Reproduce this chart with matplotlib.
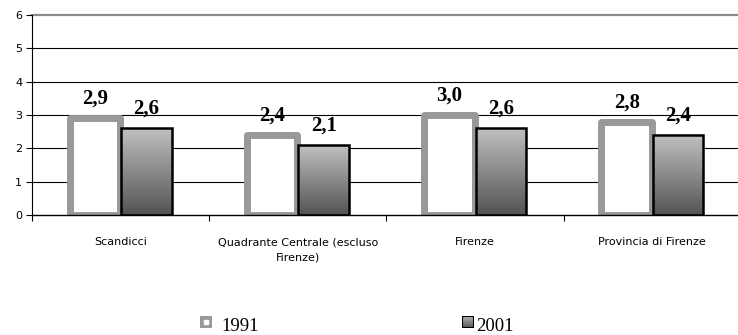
import numpy as np
import matplotlib
matplotlib.use("Agg")
import matplotlib.pyplot as plt
from matplotlib.patches import Rectangle
from matplotlib.colors import LinearSegmentedColormap

categories = ["Scandicci", "Quadrante Centrale (escluso\nFirenze)", "Firenze", "Provincia di Firenze"]
values_1991 = [2.9, 2.4, 3.0, 2.8]
values_2001 = [2.6, 2.1, 2.6, 2.4]
series_names = ["1991", "2001"]
yticks = [0, 1, 2, 3, 4, 5, 6]

W, H = 738, 335
fig = plt.figure(figsize=(W / 100, H / 100), dpi=100)
ax = fig.add_axes([32 / W, 1 - 215 / H, 709 / W, 200 / H])

x = np.arange(len(categories))
bw = 0.285
off = 0.145

ax.set_xlim(-0.5, len(categories) - 0.5)
ax.set_ylim(0, 6)

# horizontal grid
for t in yticks[1:-1]:
    ax.axhline(t, color="black", lw=0.8, zorder=0)
ax.axhline(6, color="#8c8c8c", lw=1.6, zorder=0, clip_on=False)

grey_grad = LinearSegmentedColormap.from_list("g", ["#535353", "#c0c0c0"])
grad = np.linspace(0, 1, 256).reshape(-1, 1)

# 1991: white bars with a heavy grey rounded border
b1 = ax.bar(x - off, values_1991, bw, color="white", edgecolor="#999999",
            linewidth=5, zorder=3)
for p in b1:
    p.set_joinstyle("round")

# 2001: vertical grey gradient bars with black outline
b2 = ax.bar(x + off, values_2001, bw, color="none", edgecolor="black",
            linewidth=1.8, zorder=4)
for p, v in zip(b2, values_2001):
    x0 = p.get_x()
    im = ax.imshow(grad, cmap=grey_grad, aspect="auto", origin="lower",
                   extent=[x0, x0 + bw, 0, v], zorder=3.5)
    im.set_clip_path(p)

for xi, v in zip(x - off, values_1991):
    ax.annotate(f"{v:.1f}".replace(".", ","), (xi, v), xytext=(0, 14),
                textcoords="offset points", ha="center", va="center",
                fontsize=15, fontweight="bold", family="Liberation Serif", zorder=6)
for xi, v in zip(x + off, values_2001):
    ax.annotate(f"{v:.1f}".replace(".", ","), (xi, v), xytext=(0, 14),
                textcoords="offset points", ha="center", va="center",
                fontsize=15, fontweight="bold", family="Liberation Serif", zorder=6)

ax.set_xticks(x)
ax.set_xticklabels(categories, fontsize=8, family="DejaVu Sans", linespacing=1.6)
ax.set_xticks(np.arange(-0.5, len(categories), 1), minor=True)
ax.tick_params(axis="x", which="major", length=0, pad=16)
ax.tick_params(axis="x", which="minor", length=4, width=0.8, color="black")
ax.set_yticks(yticks)
ax.set_yticklabels([str(t) for t in yticks], fontsize=8, family="DejaVu Sans")
ax.tick_params(axis="y", length=4, width=0.8, pad=3)

for s in ["top", "right"]:
    ax.spines[s].set_visible(False)
ax.spines["left"].set_linewidth(0.8)
ax.spines["bottom"].set_linewidth(1.0)
ax.spines["bottom"].set_zorder(5)

# legend
m1 = fig.add_axes([200 / W, 1 - 328 / H, 12 / W, 12 / H])
m1.add_patch(Rectangle((0, 0), 1, 1, color="#999999"))
m1.add_patch(Rectangle((0.35, 0.35), 0.3, 0.3, color="white"))
m1.set_xlim(0, 1); m1.set_ylim(0, 1); m1.axis("off")
fig.text(221 / W, 1 - 331 / H, series_names[0], fontsize=13.5,
         family="Liberation Serif", ha="left", va="baseline")

m2 = fig.add_axes([462 / W, 1 - 328 / H, 12 / W, 12 / H])
m2.imshow(grad, cmap=grey_grad, aspect="auto", origin="lower", extent=[0, 1, 0, 1])
m2.add_patch(Rectangle((0, 0), 1, 1, fill=False, edgecolor="black", lw=1.5))
m2.set_xlim(0, 1); m2.set_ylim(0, 1); m2.axis("off")
fig.text(476 / W, 1 - 331 / H, series_names[1], fontsize=13.5,
         family="Liberation Serif", ha="left", va="baseline")

fig.savefig("out.png", dpi=100)
